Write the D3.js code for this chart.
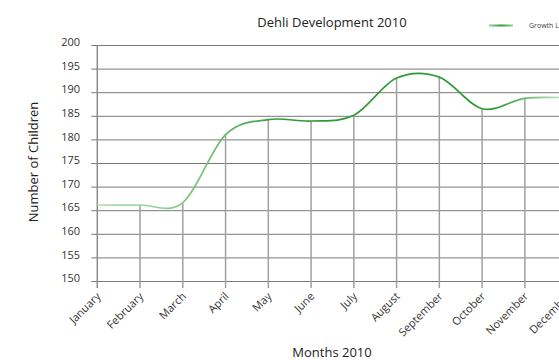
<!DOCTYPE html>
<html>
<head>
<meta charset="utf-8">
<script src="https://cdn.jsdelivr.net/npm/d3@7"></script>
<style>
  html, body { margin: 0; padding: 0; background: #fff; overflow: hidden; }
  svg { display: block; font-family: "Open Sans", sans-serif; }
  .grid line { stroke: #7a7a7a; stroke-width: 1; }
  .drop { stroke: #a0a0a0; stroke-width: 1.5; }
  .tick-label { font-size: 11px; fill: #333; }
</style>
</head>
<body>
<div id="chart"></div>
<script>
// Chart data
const months = ["January", "February", "March", "April", "May", "June",
                "July", "August", "September", "October", "November", "December"];
const children = [166.1, 166.1, 166.6, 181.0, 184.2, 183.9, 185.1, 193.0, 193.2, 186.5, 188.7, 188.8];
const yTicks = [150, 155, 160, 165, 170, 175, 180, 185, 190, 195, 200];
const seriesName = "Growth Line";

// Dimensions (plot runs past the right edge like the original)
const width = 559, height = 360;
const plot = {left: 97.3, right: 567.6, top: 45, bottom: 281};

const x = d3.scalePoint()
    .domain(months)
    .range([plot.left, plot.right]);

const y = d3.scaleLinear()
    .domain([150, 200])
    .range([plot.bottom, plot.top]);

const svg = d3.select("#chart")
    .append("svg")
    .attr("width", width)
    .attr("height", height);

// Gradients for the green line (lighter at the ends)
const defs = svg.append("defs");
const grad = defs.append("linearGradient")
    .attr("id", "lineGrad")
    .attr("gradientUnits", "userSpaceOnUse")
    .attr("x1", plot.left).attr("x2", plot.right)
    .attr("y1", 0).attr("y2", 0);
[[0, "#b4deb4"], [0.22, "#7cc47c"], [0.4, "#2f9a36"], [0.85, "#2f9a36"], [1, "#c6e6c6"]]
    .forEach(s => grad.append("stop").attr("offset", s[0]).attr("stop-color", s[1]));

const lgGrad = defs.append("linearGradient")
    .attr("id", "legendGrad")
    .attr("x1", 0).attr("x2", 1);
[[0, "#9ad29a"], [0.5, "#2f9a36"], [1, "#9ad29a"]]
    .forEach(s => lgGrad.append("stop").attr("offset", s[0]).attr("stop-color", s[1]));

// Horizontal grid lines
svg.append("g")
    .attr("class", "grid")
    .attr("transform", `translate(${plot.left},0)`)
    .call(d3.axisLeft(y)
        .tickValues(yTicks)
        .tickSize(-(plot.right - plot.left + 30))
        .tickSizeOuter(0)
        .tickFormat(""))
    .call(g => g.select(".domain").remove())
    .call(g => g.selectAll(".tick line").attr("x1", -6));

// Y axis line
svg.append("line")
    .attr("x1", plot.left).attr("x2", plot.left)
    .attr("y1", plot.top).attr("y2", plot.bottom + 7)
    .attr("stroke", "#8a8a8a")
    .attr("stroke-width", 1.5);

// Y tick labels
svg.append("g")
    .selectAll("text")
    .data(yTicks)
    .enter().append("text")
    .attr("class", "tick-label")
    .attr("x", 80)
    .attr("y", d => y(d))
    .attr("dy", "0.1em")
    .attr("text-anchor", "end")
    .text(d => d);

// Drop lines from each point down through the axis
svg.append("g")
    .selectAll("line")
    .data(months.slice(1))
    .enter().append("line")
    .attr("class", "drop")
    .attr("x1", d => x(d)).attr("x2", d => x(d))
    .attr("y1", d => y(children[months.indexOf(d)]))
    .attr("y2", plot.bottom + 7);

// X axis labels
svg.append("g")
    .selectAll("text")
    .data(months)
    .enter().append("text")
    .attr("class", "tick-label")
    .attr("text-anchor", "end")
    .attr("transform", d => `translate(${x(d) + 4},${plot.bottom + 16}) rotate(-45)`)
    .text(d => d);

// Smoothed growth line
const line = d3.line()
    .x((d, i) => x(months[i]))
    .y(d => y(d))
    .curve(d3.curveCardinal.tension(0));

svg.append("path")
    .datum(children)
    .attr("d", line)
    .attr("fill", "none")
    .attr("stroke", "url(#lineGrad)")
    .attr("stroke-width", 1.7);

// Title
svg.append("text")
    .attr("x", 332)
    .attr("y", 27)
    .attr("text-anchor", "middle")
    .style("font-size", "13px")
    .style("fill", "#222")
    .text("Dehli Development 2010");

// Axis titles
svg.append("text")
    .attr("transform", `translate(38,162) rotate(-90)`)
    .attr("text-anchor", "middle")
    .style("font-size", "13px")
    .style("fill", "#222")
    .text("Number of Children");

svg.append("text")
    .attr("x", 332)
    .attr("y", 357)
    .attr("text-anchor", "middle")
    .style("font-size", "13px")
    .style("fill", "#222")
    .text("Months 2010");

// Legend
const legend = svg.append("g")
    .attr("transform", "translate(489,25.5)");

legend.append("rect")
    .attr("x", 0).attr("y", -1)
    .attr("width", 24).attr("height", 2)
    .attr("fill", "url(#legendGrad)");

legend.append("text")
    .attr("x", 40)
    .attr("y", 0)
    .attr("dy", "0.35em")
    .style("font-size", "7px")
    .style("fill", "#444")
    .text(seriesName);
</script>
</body>
</html>
